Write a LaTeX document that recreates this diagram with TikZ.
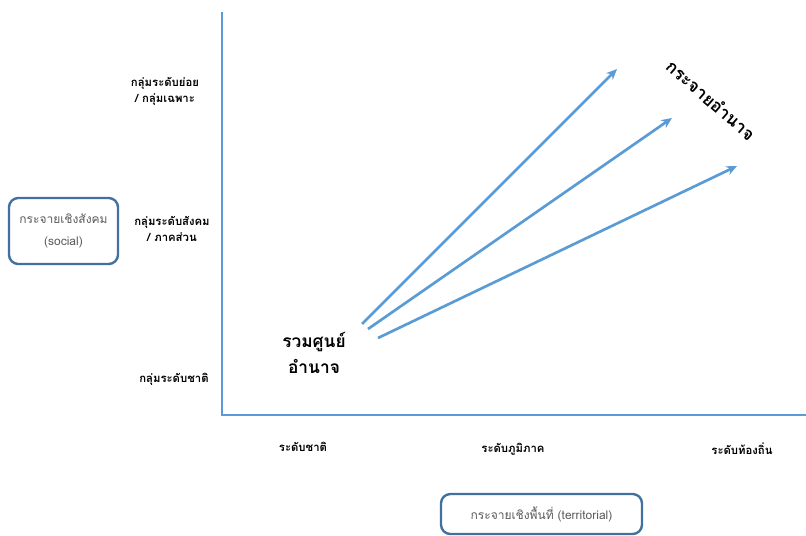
\documentclass[tikz,border=0pt]{standalone}
\usepackage{fontspec}
\usetikzlibrary{arrows.meta}
\newfontfamily\thaifont[Script=Thai]{Loma}
\definecolor{axisblue}{HTML}{5B9BD5}
\definecolor{boxblue}{HTML}{41719C}
\definecolor{boxtext}{HTML}{595959}
\begin{document}
\begin{tikzpicture}[x=0.75pt,y=-0.75pt,
    level/.style={font=\thaifont\bfseries\fontsize{8.5}{12}\selectfont, align=center, inner sep=0pt},
    centre/.style={font=\thaifont\bfseries\fontsize{13}{19}\selectfont, align=center, inner sep=0pt},
    kind/.style={draw=boxblue, line width=1.8pt, rounded corners=7pt, text=boxtext,
        font=\thaifont\fontsize{9}{16}\selectfont, align=center, inner sep=0pt},
    axis/.style={draw=axisblue, line width=2.2pt},
    spread/.style={draw=axisblue, line width=2pt, -{Stealth[length=8pt,width=7pt]}}]

    \useasboundingbox (0,0) rectangle (806,535);

    % axes
    \coordinate (T) at (222,12);
    \coordinate (O) at (222,415);
    \coordinate (R) at (806,415);
    \draw[axis, line cap=butt] (T) -- (O) -- (R);

    % vertical levels
    \node[level] (V3) at (165,91) {กลุ่มระดับย่อย\\/ กลุ่มเฉพาะ};
    \node[level] (V2) at (172,229) {กลุ่มระดับสังคม\\/ ภาคส่วน};
    \node[level] (V1) at (174,379) {กลุ่มระดับชาติ};

    % horizontal levels
    \node[level] (H1) at (303,447) {ระดับชาติ};
    \node[level] (H2) at (513,449) {ระดับภูมิภาค};
    \node[level] (H3) at (742,449) {ระดับท้องถิ่น};

    % boxes
    \node[kind, minimum width=109pt*0.75, minimum height=66pt*0.75] (S) at (63.5,231) {กระจายเชิงสังคม\\(social)};
    \node[kind, minimum width=201pt*0.75, minimum height=40pt*0.75] (P) at (541.5,514) {กระจายเชิงพื้นที่ (territorial)};

    % centre and arrows
    \node[centre] (C) at (314,353) {รวมศูนย์\\อำนาจ};
    \node[centre, rotate=-41] (D) at (711,100) {กระจายอำนาจ};

    \coordinate (s1) at (362,324);
    \coordinate (e1) at (617,69);
    \coordinate (s2) at (368,329);
    \coordinate (e2) at (672,118);
    \coordinate (s3) at (378,338);
    \coordinate (e3) at (737,166);
    \draw[spread] (s1) -- (e1);
    \draw[spread] (s2) -- (e2);
    \draw[spread] (s3) -- (e3);

\end{tikzpicture}
\end{document}
